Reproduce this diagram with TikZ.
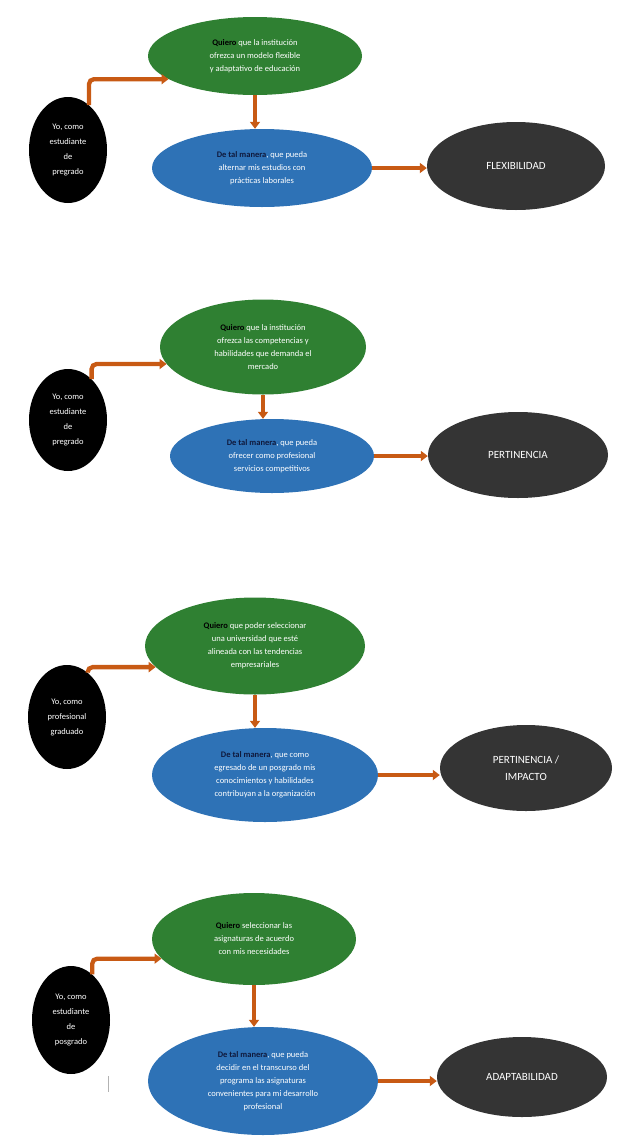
\documentclass[tikz,border=0pt]{standalone}
\usepackage{fontspec}
\setmainfont{Carlito}
\usetikzlibrary{shapes.geometric,arrows.meta,calc}
\definecolor{grn}{RGB}{47,128,50}
\definecolor{blu}{RGB}{46,114,182}
\definecolor{drk}{RGB}{52,52,52}
\definecolor{org}{RGB}{200,90,20}
\definecolor{navy}{RGB}{15,25,60}
\newcommand{\kwq}[1]{\textcolor{black}{\textbf{#1}}}
\newcommand{\kwd}[1]{\textcolor{navy}{\textbf{#1}}}
\begin{document}
\begin{tikzpicture}[x=1pt,y=-1pt,
 base/.style={ellipse, inner sep=0pt, align=center, text=white, font=\fontsize{8.5}{13}\selectfont},
 greenell/.style={base, fill=grn},
 blueell/.style={base, fill=blu},
 blackell/.style={base, fill=black, font=\fontsize{8.5}{15}\selectfont},
 darkell/.style={base, fill=drk, font=\fontsize{11}{17}\selectfont},
 arr/.style={draw=org, line width=4.3pt, -{Triangle[length=7pt,width=10pt]}},
 elbow/.style={arr, rounded corners=5pt}]
\useasboundingbox (0,0) rectangle (619,1144);

% ---------- Group 1 ----------
\node[greenell, minimum width=214pt, minimum height=78pt] (g1) at (255,56)
 {\kwq{Quiero} que la institución\\ofrezca un modelo flexible\\y adaptativo de educación};
\node[blackell, minimum width=78pt, minimum height=106pt] (k1) at (68,150)
 {Yo, como\\estudiante\\de\\pregrado};
\node[blueell, minimum width=220pt, minimum height=78pt] (b1) at (262,168)
 {\kwd{De tal manera}, que pueda\\alternar mis estudios con\\prácticas laborales};
\node[darkell, minimum width=178pt, minimum height=88pt] (d1) at (516,166) {FLEXIBILIDAD};
\draw[elbow] (k1.65) |- (g1.195);
\draw[arr] (g1.south) -- (g1.south |- b1.north);
\draw[arr] (b1.east) -- (d1.west |- b1.east);

% ---------- Group 2 ----------
\node[greenell, minimum width=206pt, minimum height=95pt] (g2) at (263,347)
 {\kwq{Quiero} que la institución\\ofrezca las competencias y\\habilidades que demanda el\\mercado};
\node[blackell, minimum width=78pt, minimum height=102pt] (k2) at (68,420)
 {Yo, como\\estudiante\\de\\pregrado};
\node[blueell, minimum width=204pt, minimum height=74pt] (b2) at (272,456)
 {\kwd{De tal manera}, que pueda\\ofrecer como profesional\\servicios competitivos};
\node[darkell, minimum width=180pt, minimum height=86pt] (d2) at (518,455) {PERTINENCIA};
\draw[elbow] (k2.60) |- (g2.190);
\draw[arr] (g2.south) -- (g2.south |- b2.north);
\draw[arr] (b2.east) -- (d2.west |- b2.east);

% ---------- Group 3 ----------
\node[greenell, minimum width=220pt, minimum height=97pt] (g3) at (255,646)
 {\kwq{Quiero} que poder seleccionar\\una universidad que esté\\alineada con las tendencias\\empresariales};
\node[blackell, minimum width=78pt, minimum height=104pt] (k3) at (67,717)
 {Yo, como\\profesional\\graduado};
\node[blueell, minimum width=226pt, minimum height=94pt] (b3) at (265,775)
 {\kwd{De tal manera}, que como\\egresado de un posgrado mis\\conocimientos y habilidades\\contribuyan a la organización};
\node[darkell, minimum width=172pt, minimum height=86pt] (d3) at (526,768) {PERTINENCIA /\\IMPACTO};
\draw[elbow] (k3.65) |- (g3.192);
\draw[arr] (g3.south) -- (g3.south |- b3.north);
\draw[arr] (b3.east) -- (d3.west |- b3.east);

% ---------- Group 4 ----------
\node[greenell, minimum width=204pt, minimum height=92pt] (g4) at (254,939)
 {\kwq{Quiero} seleccionar las\\asignaturas de acuerdo\\con mis necesidades};
\node[blackell, minimum width=78pt, minimum height=108pt] (k4) at (71,1020)
 {Yo, como\\estudiante\\de\\posgrado};
\node[blueell, minimum width=230pt, minimum height=108pt] (b4) at (263,1081)
 {\kwd{De tal manera}, que pueda\\decidir en el transcurso del\\programa las asignaturas\\convenientes para mi desarrollo\\profesional};
\node[darkell, minimum width=170pt, minimum height=80pt] (d4) at (522,1077) {ADAPTABILIDAD};
\draw[elbow] (k4.65) |- (g4.192);
\draw[arr] (g4.south) -- (g4.south |- b4.north);
\draw[arr] (b4.east) -- (d4.west |- b4.east);
\draw[gray!60, line width=0.8pt] (108,1076) -- (108,1092);
\end{tikzpicture}
\end{document}
